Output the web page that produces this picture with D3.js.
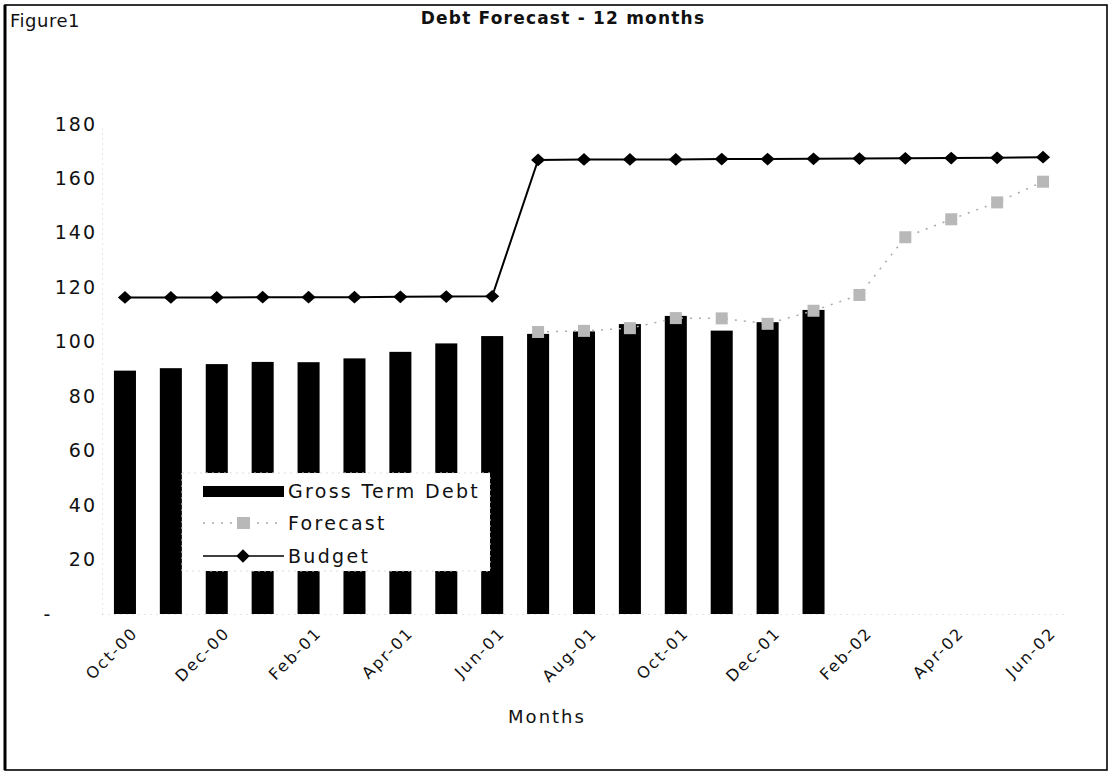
<!DOCTYPE html>
<html>
<head>
<meta charset="utf-8">
<script src="https://cdn.jsdelivr.net/npm/d3@7"></script>
<style>
  html, body { margin: 0; padding: 0; background: #fff; }
  svg { display: block; }
  text { font-family: "DejaVu Sans", sans-serif; fill: #111; }
</style>
</head>
<body>
<svg id="chart" width="1112" height="775"></svg>
<script>
const months = ["Oct-00","Nov-00","Dec-00","Jan-01","Feb-01","Mar-01","Apr-01","May-01","Jun-01",
  "Jul-01","Aug-01","Sep-01","Oct-01","Nov-01","Dec-01","Jan-02","Feb-02","Mar-02","Apr-02","May-02","Jun-02"];
const grossTermDebt = [89.4, 90.3, 91.8, 92.6, 92.5, 93.9, 96.3, 99.4, 102.1, 102.9, 103.8, 106.5, 109.5, 104.1, 107.2, 111.7,
  null, null, null, null, null];
const forecast = [null, null, null, null, null, null, null, null, null,
  103.6, 104.0, 105.0, 108.7, 108.6, 106.6, 111.4, 117.2, 138.4, 145.0, 151.2, 158.8];
const budget = [116.3, 116.3, 116.3, 116.4, 116.4, 116.4, 116.5, 116.6, 116.7,
  166.8, 167.0, 167.0, 167.0, 167.1, 167.1, 167.2, 167.3, 167.4, 167.5, 167.6, 167.8];
const yTicks = [0, 20, 40, 60, 80, 100, 120, 140, 160, 180];
const xTickLabels = ["Oct-00","Dec-00","Feb-01","Apr-01","Jun-01","Aug-01","Oct-01","Dec-01","Feb-02","Apr-02","Jun-02"];
const seriesNames = ["Gross Term Debt", "Forecast", "Budget"];
const chartTitle = "Debt Forecast - 12 months";
const figureLabel = "Figure1";
const xTitle = "Months";

const svg = d3.select("#chart");
const W = 1112, H = 775;
const plot = {left: 102, right: 1066, top: 124, bottom: 614};

// outer frame
svg.append("rect").attr("x", 5).attr("y", 5).attr("width", W - 10).attr("height", H - 10)
  .attr("fill", "#fff").attr("stroke", "#000").attr("stroke-width", 1.6);
svg.append("line").attr("x1", 5).attr("x2", 5).attr("y1", 5).attr("y2", H - 5)
  .attr("stroke", "#000").attr("stroke-width", 3);

const x = d3.scaleBand().domain(months).range([plot.left, plot.right])
  .paddingInner(0.52).paddingOuter(0.26);
const xc = d => x(d) + x.bandwidth() / 2;
const y = d3.scaleLinear().domain([0, 180]).range([plot.bottom, plot.top]);

// faint axes
const yAxis = d3.axisLeft(y).tickValues(yTicks).tickSize(0).tickPadding(6)
  .tickFormat(d => d === 0 ? "-" : d);
const gy = svg.append("g").attr("transform", `translate(${plot.left},0)`).call(yAxis);
gy.select(".domain").attr("stroke", "#ccc").attr("stroke-dasharray", "1,4");
gy.selectAll("text").style("font-size", "19px").style("letter-spacing", "2px")
  .attr("fill", "#111").attr("x", -5);
gy.selectAll(".tick").filter(d => d === 0).select("text")
  .attr("text-anchor", "middle").attr("x", -54);

const xAxis = d3.axisBottom(x).tickValues(xTickLabels).tickSize(0).tickPadding(0);
const gx = svg.append("g").attr("transform", `translate(0,${plot.bottom})`).call(xAxis);
gx.select(".domain").attr("stroke", "#ccc").attr("stroke-dasharray", "1,5");
gx.selectAll("text")
  .style("font-size", "16px").style("letter-spacing", "2px")
  .attr("text-anchor", "end")
  .attr("dy", 0).attr("y", 0)
  .attr("transform", "translate(14,20) rotate(-45)");

// bars
svg.append("g").selectAll("rect")
  .data(months.map((m, i) => ({m, v: grossTermDebt[i]})).filter(d => d.v != null))
  .join("rect")
  .attr("x", d => x(d.m)).attr("width", x.bandwidth())
  .attr("y", d => y(d.v)).attr("height", d => y(0) - y(d.v))
  .attr("fill", "#000");

// forecast line
const fData = months.map((m, i) => ({m, v: forecast[i]})).filter(d => d.v != null);
const line = d3.line().x(d => xc(d.m)).y(d => y(d.v));
svg.append("path").datum(fData).attr("d", line)
  .attr("fill", "none").attr("stroke", "#aaa").attr("stroke-width", 1.5)
  .attr("stroke-dasharray", "2,7");
svg.append("g").selectAll("rect").data(fData).join("rect")
  .attr("x", d => xc(d.m) - 6).attr("y", d => y(d.v) - 6)
  .attr("width", 12).attr("height", 12).attr("fill", "#b8b8b8");

// budget line
const bData = months.map((m, i) => ({m, v: budget[i]}));
svg.append("path").datum(bData).attr("d", line)
  .attr("fill", "none").attr("stroke", "#000").attr("stroke-width", 2);
const diamond = d3.symbol().type(d3.symbolDiamond2).size(115);
svg.append("g").selectAll("path").data(bData).join("path")
  .attr("d", diamond)
  .attr("transform", d => `translate(${xc(d.m)},${y(d.v)}) scale(1.05,0.95)`)
  .attr("fill", "#000");

// legend
const lg = svg.append("g");
lg.append("rect").attr("x", 182).attr("y", 473).attr("width", 308).attr("height", 98)
  .attr("fill", "#fff").attr("stroke", "#ddd").attr("stroke-dasharray", "2,4");
const rows = [491, 523, 556];
lg.append("rect").attr("x", 203).attr("y", rows[0] - 5).attr("width", 81).attr("height", 11).attr("fill", "#000");
lg.append("line").attr("x1", 203).attr("x2", 284).attr("y1", rows[1]).attr("y2", rows[1])
  .attr("stroke", "#aaa").attr("stroke-width", 1.5).attr("stroke-dasharray", "2,7");
lg.append("rect").attr("x", 237).attr("y", rows[1] - 6).attr("width", 13).attr("height", 12).attr("fill", "#b8b8b8");
lg.append("line").attr("x1", 203).attr("x2", 284).attr("y1", rows[2]).attr("y2", rows[2])
  .attr("stroke", "#000").attr("stroke-width", 1.5);
lg.append("path").attr("d", diamond).attr("transform", `translate(243,${rows[2]})`).attr("fill", "#000");
lg.selectAll("text.lt").data(seriesNames).join("text").attr("class", "lt")
  .attr("x", 288).attr("y", (d, i) => rows[i] + 7)
  .style("font-size", "19px").style("letter-spacing", "2.3px")
  .text(d => d);

// titles
svg.append("text").attr("x", 563).attr("y", 24).attr("text-anchor", "middle")
  .style("font-size", "17px").style("font-weight", "bold").style("letter-spacing", "1.2px")
  .text(chartTitle);
svg.append("text").attr("x", 10).attr("y", 27)
  .style("font-size", "18px").style("letter-spacing", "0.5px").text(figureLabel);
svg.append("text").attr("x", 547).attr("y", 723).attr("text-anchor", "middle")
  .style("font-size", "18px").style("letter-spacing", "2px").text(xTitle);
</script>
</body>
</html>
